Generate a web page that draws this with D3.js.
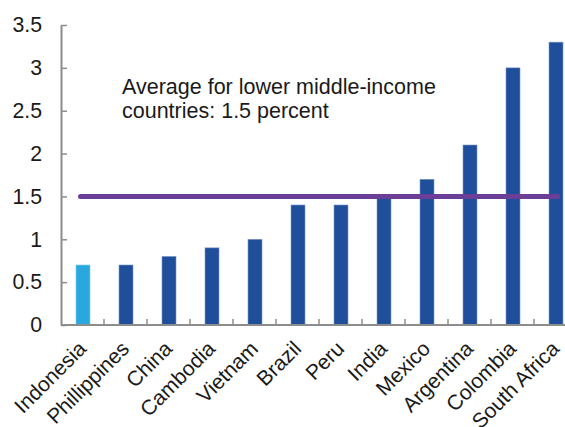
<!DOCTYPE html>
<html>
<head>
<meta charset="utf-8">
<script src="https://cdn.jsdelivr.net/npm/d3@7"></script>
<style>
  html, body { margin: 0; padding: 0; background: #fff; }
  svg { display: block; }
  text { font-family: "Liberation Sans", Arial, sans-serif; fill: #1a1a1a; }
</style>
</head>
<body>
<svg id="chart" width="565" height="427"></svg>
<script>
const categories = ["Indonesia","Phillippines","China","Cambodia","Vietnam","Brazil","Peru","India","Mexico","Argentina","Colombia","South Africa"];
const values = [0.7, 0.7, 0.8, 0.9, 1.0, 1.4, 1.4, 1.5, 1.7, 2.1, 3.0, 3.3];
const highlight = ["Indonesia"];
const yTicks = [0, 0.5, 1, 1.5, 2, 2.5, 3, 3.5];
const yTickLabels = ["0","0.5","1","1.5","2","2.5","3","3.5"];
const averageValue = 1.5;
const annotationLines = ["Average for lower middle-income", "countries: 1.5 percent"];

const svg = d3.select("#chart");
const mLeft = 61, mTop = 25, mBottom = 325, mRight = 577;

const x = d3.scaleBand().domain(categories).range([mLeft, mRight]).paddingInner(0).paddingOuter(0);
const y = d3.scaleLinear().domain([0, 3.5]).range([mBottom, mTop]);

const axisColor = "#8c8c8c";

// bars
const barW = 14;
svg.append("g").selectAll("rect").data(categories).join("rect")
  .attr("x", d => x(d) + x.bandwidth()/2 - barW/2 + 0.5)
  .attr("y", (d,i) => y(values[i]))
  .attr("width", barW)
  .attr("height", (d,i) => y(0) - y(values[i]))
  .attr("fill", d => highlight.includes(d) ? "#29A8E0" : "#1F4E9A")
  .attr("stroke", d => highlight.includes(d) ? "#7fcdee" : "#7f9cc8")
  .attr("stroke-width", 0.6);

// y axis
const yAxis = d3.axisLeft(y).tickValues(yTicks).tickFormat((d,i) => yTickLabels[i]).tickSizeInner(-6).tickSizeOuter(0).tickPadding(19);
const gy = svg.append("g").attr("transform", `translate(${mLeft},0)`).call(yAxis);
gy.select(".domain").attr("stroke", axisColor).attr("stroke-width", 2);
gy.selectAll(".tick line").attr("stroke", axisColor).attr("stroke-width", 1.5);
gy.selectAll(".tick text").attr("font-size", 21.3).attr("fill", "#1a1a1a").attr("font-family", "Liberation Sans, Arial, sans-serif");

// x axis baseline
svg.append("line").attr("x1", mLeft).attr("x2", mRight).attr("y1", y(0)).attr("y2", y(0))
  .attr("stroke", axisColor).attr("stroke-width", 2);
// x ticks between categories (inward)
svg.append("g").selectAll("line").data(categories.slice(1)).join("line")
  .attr("x1", d => x(d)).attr("x2", d => x(d))
  .attr("y1", y(0)).attr("y2", y(0) - 6)
  .attr("stroke", axisColor).attr("stroke-width", 1.5);

// x labels rotated
svg.append("g").selectAll("text").data(categories).join("text")
  .attr("transform", d => `translate(${x(d) + x.bandwidth()/2 + 5},${y(0) + 25}) rotate(-45)`)
  .attr("text-anchor", "end")
  .attr("font-size", 21)
  .text(d => d);

// average line
svg.append("line")
  .attr("x1", x(categories[0]) + x.bandwidth()/2 - 2)
  .attr("x2", x(categories[categories.length-1]) + x.bandwidth()/2 + 2)
  .attr("y1", y(averageValue)).attr("y2", y(averageValue))
  .attr("stroke", "#6B3F98").attr("stroke-width", 5).attr("stroke-linecap", "round");

// annotation
const ann = svg.append("text").attr("x", 122).attr("y", 94).attr("font-size", 21.5);
annotationLines.forEach((t, i) => {
  ann.append("tspan").attr("x", 122).attr("dy", i === 0 ? 0 : 24).text(t);
});
</script>
</body>
</html>
